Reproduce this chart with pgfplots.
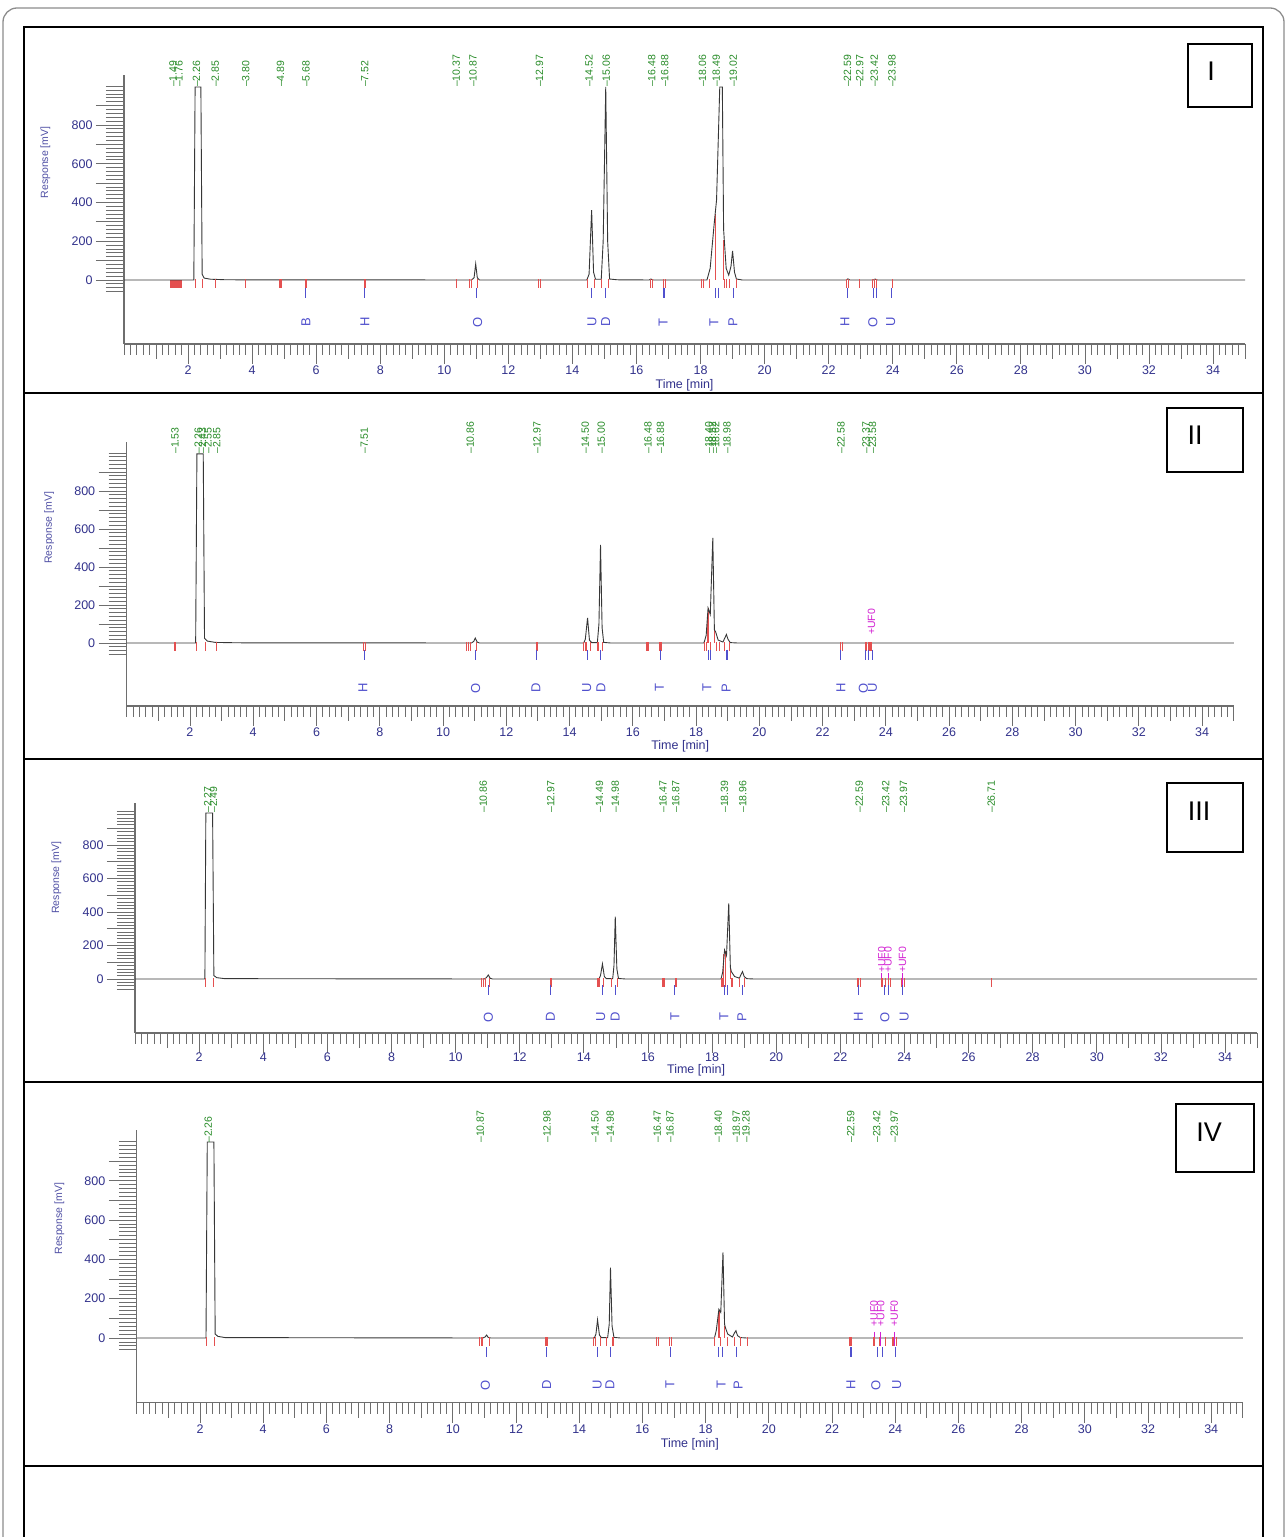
\documentclass[border=0pt]{standalone}
\usepackage{fontspec}
\setmainfont{Liberation Sans}
\usepackage{pgfplots}
\pgfplotsset{compat=1.18}
\definecolor{navy}{RGB}{50,50,140}
\definecolor{ylab}{RGB}{80,80,165}
\definecolor{axgray}{RGB}{110,110,110}
\definecolor{curvec}{RGB}{55,55,55}
\definecolor{grn}{RGB}{40,140,40}
\definecolor{rmark}{RGB}{228,80,80}
\definecolor{bmark}{RGB}{80,80,205}
\definecolor{mag}{RGB}{210,30,210}
\pgfplotsset{
 chrom/.style={enlargelimits=false, xmin=0, xmax=35, clip=false, anchor=south west,
   axis line style={draw=axgray, line width=1.2pt},
   tick style={draw=axgray, line width=0.8pt},
   tick align=outside,
   /pgf/number format/assume math mode=true,
   tick label style={font=\fontsize{12.5}{14}\selectfont, text=navy}},
 xruler/.style={axis x line*=bottom, axis y line*=left, ytick=\empty,
   xtick={2,4,...,34}, minor xtick={0,0.2,...,35},
   extra x ticks={1,3,...,35}, extra x tick labels={},
   extra x tick style={major tick length=15pt},
   major tick length=20pt, minor tick length=11pt,
   xticklabel style={yshift=1.5pt},
   xlabel={Time [min]},
   xlabel style={font=\fontsize{12.5}{14}\selectfont, text=navy,
     at={(axis description cs:0.5,#1)}, anchor=center}},
 yruler/.style={hide x axis, axis y line*=left,
   ytick={0,100,...,900}, yticklabels={0,,200,,400,,600,,800,},
   minor ytick={-60,-40,...,1000},
   major tick length=28pt, minor tick length=18pt,
   ylabel={Response [mV]},
   ylabel style={font=\fontsize{10.5}{12}\selectfont, text=ylab,
     at={(axis description cs:-0.07,0.675)}, anchor=center}},
 pI/.style={x=32.03pt, y=0.19375pt, ymin=-330.3, ymax=1058, at={(124pt,1193pt)}},
 pII/.style={x=31.63pt, y=0.19pt, ymin=-331.6, ymax=1058, at={(126.7pt,831pt)}},
 pIII/.style={x=32.06pt, y=0.1675pt, ymin=-322.4, ymax=1050.7, at={(135pt,504pt)}},
 pIV/.style={x=31.6pt, y=0.1966pt, ymin=-329.1, ymax=1058, at={(136.8pt,134.3pt)}},
 curve/.style={color=curvec, line width=0.9pt, mark=none},
 rint/.style={only marks, mark=|, mark size=4.5pt, mark options={draw=rmark, line width=1.1pt}},
 bint/.style={only marks, mark=|, mark size=5pt, mark options={draw=bmark, line width=1.1pt}},
 mint/.style={only marks, mark=|, mark size=7pt, mark options={draw=mag, line width=0.9pt}},
 drop/.style={ycomb, draw=rmark, line width=1.1pt, mark=none},
 lab/.style n args={3}{only marks, mark=|, mark size=0pt, point meta=explicit symbolic,
   nodes near coords, nodes near coords style={rotate=90, anchor=#2, inner sep=0pt,
   font=\fontsize{#3}{#3}\selectfont, text=#1}},
}
\begin{document}
\begin{tikzpicture}[x=1pt,y=1pt]
\useasboundingbox (0,0) rectangle (1287,1537);
\clip (0,0) rectangle (1287,1537);
\fill[white] (0,0) rectangle (1287,1537);
\draw[black!45, line width=1.3pt, rounded corners=14pt] (3,-40) rectangle (1284,1529);
\draw[black, line width=2.2pt] (24,-40) rectangle (1263,1510);
\foreach \yy in {1144,778,455,71} \draw[black, line width=2.6pt] (24,\yy) -- (1263,\yy);
% panel boxes
\draw[black, line width=1.3pt] (1188,1430) rectangle (1252,1493);
\node[font=\fontsize{27}{30}\selectfont] at (1211,1466) {I};
\draw[black, line width=1.3pt] (1167,1065) rectangle (1243,1129);
\node[font=\fontsize{27}{30}\selectfont] at (1195,1102) {II};
\draw[black, line width=1.3pt] (1167,685) rectangle (1243,754);
\node[font=\fontsize{27}{30}\selectfont] at (1199,726) {III};
\draw[black, line width=1.3pt] (1176,365) rectangle (1254,433);
\node[font=\fontsize{27}{30}\selectfont] at (1209,405) {IV};

%================ PANEL I
\begin{axis}[chrom, pI, yruler]
\end{axis}
\begin{axis}[chrom, pI, xruler=-0.153]
\addplot[fill=rmark, draw=none] coordinates {(1.44,0)(1.81,0)(1.81,-40)(1.44,-40)};
\addplot[rint] coordinates {(2.22,-20)(2.44,-20)(2.85,-20)(3.80,-20)(4.87,-20)(4.91,-20)(5.66,-20)(5.71,-20)(7.50,-20)(7.55,-20)(10.37,-20)(10.78,-20)(10.84,-20)(11.04,-20)(12.93,-20)(12.99,-20)(14.47,-20)(14.70,-20)(14.90,-20)(15.12,-20)(16.45,-20)(16.51,-20)(16.85,-20)(16.91,-20)(18.03,-20)(18.09,-20)(18.28,-20)(18.76,-20)(18.82,-20)(18.90,-20)(19.12,-20)(22.56,-20)(22.62,-20)(22.97,-20)(23.37,-20)(23.43,-20)(23.50,-20)(23.98,-20)};
\addplot[bint] coordinates {(5.68,-67)(7.52,-67)(11.0,-67)(14.60,-67)(15.04,-67)(16.86,-67)(18.48,-67)(18.56,-67)(19.02,-67)(22.59,-67)(23.40,-67)(23.48,-67)(23.96,-67)};
\addplot[drop] coordinates {(18.48,340)(18.71,206)};
\addplot[curve] coordinates {(0,0)(2.18,0)(2.22,996)(2.40,996)(2.44,30)(2.5,10)(2.7,4)(3.2,1)(10.85,0)(10.93,12)(10.98,83)(11.03,12)(11.1,0)(14.45,0)(14.52,30)(14.6,361)(14.66,40)(14.72,4)(14.9,4)(14.96,200)(15.04,996)(15.1,200)(15.16,5)(15.4,1)(16.4,0)(16.45,5)(16.52,0)(18.2,0)(18.3,60)(18.42,280)(18.5,413)(18.6,996)(18.68,996)(18.72,260)(18.8,60)(18.88,25)(18.95,70)(19.0,150)(19.06,40)(19.12,5)(19.3,0)(22.55,0)(22.6,6)(22.66,0)(23.4,0)(23.45,5)(23.52,0)(35,0)};
\addplot[lab={grn}{west}{10.5}] coordinates {(1.53,995)[--1.49](1.72,995)[--1.76](2.26,995)[--2.26](2.85,995)[--2.85](3.80,995)[--3.80](4.89,995)[--4.89](5.68,995)[--5.68](7.52,995)[--7.52](10.37,995)[--10.37](10.90,995)[--10.87](12.97,995)[--12.97](14.52,995)[--14.52](15.06,995)[--15.06](16.48,995)[--16.48](16.88,995)[--16.88](18.06,995)[--18.06](18.49,995)[--18.49](19.02,995)[--19.02](22.59,995)[--22.59](22.97,995)[--22.97](23.42,995)[--23.42](23.98,995)[--23.98]};
\addplot[lab={bmark}{center}{13}] coordinates {(5.68,-217)[B](7.52,-217)[H](11.04,-217)[O](14.61,-217)[U](15.04,-217)[D](16.83,-217)[T](18.42,-217)[T](19.01,-217)[P](22.51,-217)[H](23.38,-217)[O](23.94,-217)[U]};
\end{axis}

%================ PANEL II
\begin{axis}[chrom, pII, yruler]
\end{axis}
\begin{axis}[chrom, pII, xruler=-0.153]
\addplot[rint] coordinates {(1.50,-20)(1.55,-20)(2.22,-20)(2.48,-20)(2.85,-20)(7.49,-20)(7.54,-20)(10.74,-20)(10.80,-20)(10.86,-20)(11.05,-20)(12.95,-20)(13.00,-20)(14.45,-20)(14.52,-20)(14.66,-20)(14.90,-20)(15.05,-20)(16.45,-20)(16.51,-20)(16.86,-20)(16.92,-20)(18.28,-20)(18.33,-20)(18.46,-20)(18.64,-20)(18.75,-20)(18.90,-20)(19.06,-20)(22.56,-20)(22.62,-20)(23.35,-20)(23.40,-20)(23.45,-20)(23.50,-20)(23.55,-20)};
\addplot[bint] coordinates {(7.51,-63)(11.02,-63)(12.97,-63)(14.57,-63)(14.98,-63)(16.88,-63)(18.40,-63)(18.47,-63)(18.98,-63)(22.58,-63)(23.37,-63)(23.45,-63)(23.58,-63)};
\addplot[drop] coordinates {(18.36,150)(18.40,184)(18.58,70)};
\addplot[curve] coordinates {(0,0)(2.18,0)(2.22,995)(2.42,995)(2.46,25)(2.55,10)(2.8,3)(3.5,1)(10.9,0)(10.97,8)(11.02,26)(11.08,5)(11.15,0)(14.45,0)(14.5,20)(14.57,132)(14.63,15)(14.7,2)(14.88,2)(14.93,100)(14.98,516)(15.03,80)(15.08,3)(15.3,0)(18.25,0)(18.32,40)(18.38,184)(18.45,150)(18.53,553)(18.58,70)(18.62,58)(18.7,15)(18.85,5)(18.92,30)(18.96,45)(19.01,20)(19.08,2)(19.3,0)(35,0)};
\addplot[lab={grn}{west}{10.5}] coordinates {(1.53,995)[--1.53](2.26,995)[--2.26](2.40,995)[--2.43](2.57,995)[--2.55](2.85,995)[--2.85](7.51,995)[--7.51](10.86,995)[--10.86](12.97,995)[--12.97](14.50,995)[--14.50](15.00,995)[--15.00](16.48,995)[--16.48](16.88,995)[--16.88](18.40,995)[--18.40](18.52,995)[--18.52](18.62,995)[--18.62](18.98,995)[--18.98](22.58,995)[--22.58](23.37,995)[--23.37](23.58,995)[--23.58]};
\addplot[lab={mag}{west}{10.5}] coordinates {(23.55,42)[+UF0]};
\addplot[lab={bmark}{center}{13}] coordinates {(7.47,-237)[H](11.03,-237)[O](12.94,-237)[D](14.54,-237)[U](14.99,-237)[D](16.84,-237)[T](18.34,-237)[T](18.95,-237)[P](22.58,-237)[H](23.29,-237)[O](23.58,-237)[U]};
\end{axis}

%================ PANEL III
\begin{axis}[chrom, pIII, yruler]
\end{axis}
\begin{axis}[chrom, pIII, xruler=-0.162, xticklabel style={yshift=2.5pt}]
\addplot[mint] coordinates {(23.29,-5)(23.49,-5)(23.94,-5)};
\addplot[rint] coordinates {(2.20,-22)(2.45,-22)(10.82,-22)(10.88,-22)(10.94,-22)(11.06,-22)(12.95,-22)(13.00,-22)(14.44,-22)(14.49,-22)(14.62,-22)(14.86,-22)(15.05,-22)(16.45,-22)(16.50,-22)(16.85,-22)(16.90,-22)(18.30,-22)(18.34,-22)(18.43,-22)(18.62,-22)(18.86,-22)(19.02,-22)(22.55,-22)(22.62,-22)(23.30,-22)(23.40,-22)(23.50,-22)(23.56,-22)(23.90,-22)(24.00,-22)(26.71,-22)};
\addplot[bint] coordinates {(11.02,-66)(12.96,-66)(14.59,-66)(14.98,-66)(16.84,-66)(18.39,-66)(18.48,-66)(18.96,-66)(22.56,-66)(23.39,-66)(23.51,-66)(23.94,-66)};
\addplot[drop] coordinates {(18.37,150)(18.41,165)(18.57,60)};
\addplot[curve] coordinates {(0,0)(2.18,0)(2.21,991)(2.42,991)(2.46,20)(2.55,8)(2.8,2)(10.9,0)(10.96,8)(11.02,24)(11.08,4)(11.15,0)(14.47,0)(14.52,20)(14.58,90)(14.64,15)(14.7,2)(14.9,2)(14.94,80)(14.98,372)(15.03,60)(15.08,3)(15.3,0)(18.28,0)(18.33,40)(18.39,173)(18.45,140)(18.52,452)(18.57,70)(18.6,44)(18.7,15)(18.85,5)(18.9,25)(18.95,44)(19.0,15)(19.08,2)(19.3,0)(35,0)};
\addplot[lab={grn}{west}{10.5}] coordinates {(2.27,991)[--2.27](2.45,991)[--2.49](10.86,991)[--10.86](12.97,991)[--12.97](14.49,991)[--14.49](14.98,991)[--14.98](16.47,991)[--16.47](16.87,991)[--16.87](18.39,991)[--18.39](18.96,991)[--18.96](22.59,991)[--22.59](23.42,991)[--23.42](23.97,991)[--23.97](26.71,991)[--26.71]};
\addplot[lab={mag}{west}{10.5}] coordinates {(23.29,36)[+UF0](23.49,36)[+UF0](23.94,36)[+UF0]};
\addplot[lab={bmark}{center}{13}] coordinates {(11.02,-227)[O](12.96,-227)[D](14.53,-227)[U](14.98,-227)[D](16.84,-227)[T](18.37,-227)[T](18.93,-227)[P](22.56,-227)[H](23.39,-227)[O](23.99,-227)[U]};
\end{axis}

%================ PANEL IV
\begin{axis}[chrom, pIV, yruler]
\end{axis}
\begin{axis}[chrom, pIV, xruler=-0.153]
\addplot[mint] coordinates {(23.33,-5)(23.54,-5)(23.97,-5)};
\addplot[rint] coordinates {(2.21,-20)(2.46,-20)(10.85,-20)(10.90,-20)(10.95,-20)(11.15,-20)(12.95,-20)(13.00,-20)(14.46,-20)(14.52,-20)(14.66,-20)(14.87,-20)(15.07,-20)(16.46,-20)(16.51,-20)(16.86,-20)(16.91,-20)(18.29,-20)(18.47,-20)(18.70,-20)(18.91,-20)(19.09,-20)(19.33,-20)(22.57,-20)(22.63,-20)(23.33,-20)(23.51,-20)(23.69,-20)(23.93,-20)(24.05,-20)};
\addplot[bint] coordinates {(11.07,-72)(12.97,-72)(14.58,-72)(14.99,-72)(16.88,-72)(18.41,-72)(18.53,-72)(18.97,-72)(22.60,-72)(23.45,-72)(23.61,-72)(24.00,-72)};
\addplot[drop] coordinates {(18.40,130)(18.45,135)(18.60,60)};
\addplot[curve] coordinates {(0,0)(2.19,0)(2.23,997)(2.44,997)(2.48,20)(2.57,8)(2.8,2)(10.95,0)(11.02,5)(11.07,15)(11.12,3)(11.2,0)(14.48,0)(14.53,20)(14.58,92)(14.64,15)(14.7,2)(14.9,2)(14.95,70)(14.99,358)(15.04,60)(15.1,3)(15.3,0)(18.28,0)(18.34,40)(18.42,146)(18.48,130)(18.55,436)(18.6,70)(18.63,51)(18.7,20)(18.85,5)(18.91,25)(18.96,37)(19.01,12)(19.1,2)(19.3,0)(35,0)};
\addplot[lab={grn}{west}{10.5}] coordinates {(2.26,992)[--2.26](10.87,992)[--10.87](12.98,992)[--12.98](14.50,992)[--14.50](14.98,992)[--14.98](16.47,992)[--16.47](16.87,992)[--16.87](18.40,992)[--18.40](18.97,992)[--18.97](19.28,992)[--19.28](22.59,992)[--22.59](23.42,992)[--23.42](23.97,992)[--23.97]};
\addplot[lab={mag}{west}{10.5}] coordinates {(23.33,57)[+UF0](23.54,57)[+UF0](23.97,57)[+UF0]};
\addplot[lab={bmark}{center}{13}] coordinates {(11.03,-239)[O](12.97,-239)[D](14.57,-239)[U](14.97,-239)[D](16.87,-239)[T](18.49,-239)[T](19.03,-239)[P](22.60,-239)[H](23.39,-239)[O](24.05,-239)[U]};
\end{axis}
\end{tikzpicture}
\end{document}
